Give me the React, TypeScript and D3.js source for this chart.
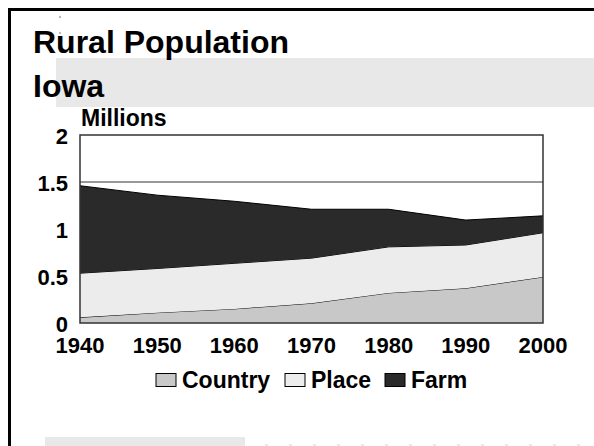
import { useMemo } from 'react'
import * as d3 from 'd3'

const WIDTH = 594
const HEIGHT = 446
const PLOT = { left: 80, right: 543, top: 135, bottom: 323 }
const FONT = '"Liberation Sans", Arial, Helvetica, sans-serif'

const YEARS = [1940, 1950, 1960, 1970, 1980, 1990, 2000]
const COUNTRY = [0.06, 0.11, 0.15, 0.21, 0.32, 0.37, 0.49]
const PLACE = [0.47, 0.47, 0.485, 0.48, 0.49, 0.46, 0.47]
const FARM = [0.93, 0.78, 0.66, 0.52, 0.4, 0.265, 0.18]

const SERIES = ['Country', 'Place', 'Farm']
const COLORS: Record<string, string> = { Country: '#c8c8c8', Place: '#ececec', Farm: '#2a2a2a' }
const Y_TICKS = [0, 0.5, 1, 1.5, 2]
const Y_TICK_LABELS = ['0', '0.5', '1', '1.5', '2']

// legend placement (x of swatch)
const LEGEND_X = [156, 285, 385]

export default function App() {
  const rows = useMemo(
    () => YEARS.map((year, i) => ({ year, Country: COUNTRY[i], Place: PLACE[i], Farm: FARM[i] })),
    []
  )

  const stacked = useMemo(() => d3.stack<any>().keys(SERIES)(rows), [rows])

  const xScale = d3.scaleLinear().domain([1940, 2000]).range([PLOT.left, PLOT.right])
  const yScale = d3.scaleLinear().domain([0, 2]).range([PLOT.bottom, PLOT.top])

  const area = d3.area<any>()
    .x(d => xScale(d.data.year))
    .y0(d => yScale(d[0]))
    .y1(d => yScale(d[1]))

  const topLine = d3.line<any>()
    .x(d => xScale(d.data.year))
    .y(d => yScale(d[1]))

  return (
    <svg
      width={WIDTH}
      height={HEIGHT}
      style={{ position: 'fixed', left: 0, top: 0, display: 'block', background: '#fff' }}
      fontFamily={FONT}
      fontWeight="bold"
    >
      {/* slide decorations */}
      <rect x={56} y={58} width={WIDTH - 56} height={49} fill="#e8e8e8" />
      <rect x={45} y={437} width={200} height={12} fill="#e8e8e8" />
      <line x1={265} x2={WIDTH} y1={445} y2={445} stroke="#d0d0d0" strokeWidth={1} strokeDasharray="3,21" />
      <rect x={9.5} y={9.5} width={WIDTH + 20} height={HEIGHT + 20} fill="none" stroke="#000" strokeWidth={3} />
      <circle cx={60} cy={17} r={1.2} fill="#bbb" />
      <circle cx={60} cy={33} r={1.2} fill="#bbb" />

      {/* title */}
      <text x={33} y={53} fontSize={32} fill="#000">Rural Population</text>
      <text x={33} y={97} fontSize={32} fill="#000">Iowa</text>
      <text x={81} y={126} fontSize={23} fill="#000">Millions</text>

      {/* plot background */}
      <rect x={PLOT.left} y={PLOT.top} width={PLOT.right - PLOT.left} height={PLOT.bottom - PLOT.top} fill="#fff" />

      {/* gridline */}
      <line x1={PLOT.left} x2={PLOT.right} y1={yScale(1.5)} y2={yScale(1.5)} stroke="#333" strokeWidth={1} />

      {/* stacked areas */}
      {stacked.map(layer => (
        <g key={layer.key}>
          <path d={area(layer) || ''} fill={COLORS[layer.key]} />
          <path d={topLine(layer) || ''} fill="none" stroke="#000" strokeWidth={1} />
        </g>
      ))}

      {/* plot border */}
      <rect
        x={PLOT.left}
        y={PLOT.top}
        width={PLOT.right - PLOT.left}
        height={PLOT.bottom - PLOT.top}
        fill="none"
        stroke="#333"
        strokeWidth={1.5}
      />

      {/* y tick labels */}
      {Y_TICKS.map((t, i) => (
        <text key={`y-${t}`} x={PLOT.left - 12} y={yScale(t) + 8.5} textAnchor="end" fontSize={22} fill="#000">
          {Y_TICK_LABELS[i]}
        </text>
      ))}

      {/* x tick labels */}
      {YEARS.map(year => (
        <text key={`x-${year}`} x={xScale(year)} y={PLOT.bottom + 30} textAnchor="middle" fontSize={22} fill="#000">
          {year}
        </text>
      ))}

      {/* legend */}
      {SERIES.map((s, i) => (
        <g key={`legend-${s}`}>
          <rect x={LEGEND_X[i]} y={373.5} width={20} height={13} fill={COLORS[s]} stroke="#000" strokeWidth={1} />
          <text x={LEGEND_X[i] + 26} y={388} fontSize={23} fill="#000">{s}</text>
        </g>
      ))}
    </svg>
  )
}
